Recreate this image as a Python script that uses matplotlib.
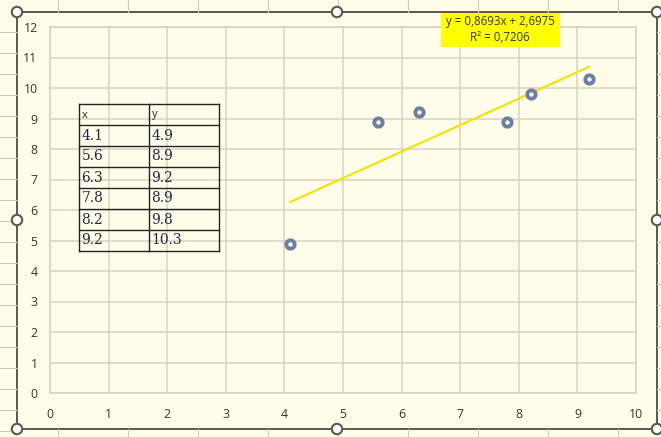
import numpy as np
import matplotlib.pyplot as plt
from matplotlib.patches import Rectangle, Circle

# measurements
x_vals = [4.1, 5.6, 6.3, 7.8, 8.2, 9.2]
y_vals = [4.9, 8.9, 9.2, 8.9, 9.8, 10.3]
x_text = ["4.1", "5.6", "6.3", "7.8", "8.2", "9.2"]
y_text = ["4.9", "8.9", "9.2", "8.9", "9.8", "10.3"]

# linear trendline as reported
slope = 0.8693
intercept = 2.6975
r2 = 0.7206

x_ticks = list(range(0, 11))
y_ticks = list(range(0, 13))

BG = '#FFFDE9'
GRID = '#D8D1C1'
FRAME = '#5E5650'
SHEET = '#CFCABA'

W, H = 661, 437
fig = plt.figure(figsize=(W / 100, H / 100), dpi=100, facecolor=BG)

# spreadsheet behind the chart object, pixel coordinates
bg = fig.add_axes([0, 0, 1, 1], zorder=0)
bg.set_xlim(0, W)
bg.set_ylim(H, 0)
bg.axis('off')
for cx in range(58, W, 70):
    bg.plot([cx, cx], [0, 12], color=SHEET, lw=0.8)
    bg.plot([cx, cx], [429, H], color=SHEET, lw=0.8)
for ry in range(32, H, 21):
    bg.plot([0, 17], [ry, ry], color=SHEET, lw=0.8)
    bg.plot([657, W], [ry, ry], color=SHEET, lw=0.8)

# chart object with its selection frame
bg.add_patch(Rectangle((17, 12), 640, 417, facecolor=BG, edgecolor=FRAME, lw=1.4))
for hx, hy in [(17, 12), (337, 12), (657, 12), (17, 220), (657, 220),
               (17, 429), (337, 429), (657, 429)]:
    bg.add_patch(Circle((hx, hy), 5.2, facecolor='white', edgecolor=FRAME, lw=1.5, zorder=5))

# plot area
ax = fig.add_axes([50 / W, 1 - 393 / H, 586 / W, 366 / H], zorder=1)
ax.set_facecolor('none')
ax.set_xlim(0, 10)
ax.set_ylim(0, 12)
ax.set_xticks(x_ticks)
ax.set_yticks(y_ticks)
ax.grid(True, color=GRID, lw=1.1)
ax.set_axisbelow(True)
for s in ax.spines.values():
    s.set_color(GRID)
    s.set_linewidth(1.1)
ax.tick_params(length=0, labelsize=8.8, labelcolor='#333333')
ax.tick_params(axis='x', pad=11)
ax.tick_params(axis='y', pad=9)
for lab in ax.get_xticklabels() + ax.get_yticklabels():
    lab.set_family('Open Sans')

tx = np.array([min(x_vals), max(x_vals)])
ax.plot(tx, slope * tx + intercept, color='#F2E20C', lw=1.6, zorder=3)
ax.plot(x_vals, y_vals, ls='none', marker='o', ms=6, mfc='white',
        mec='#6E7FA2', mew=2.8, zorder=4, clip_on=False)

# overlays: data table and trendline label
top = fig.add_axes([0, 0, 1, 1], zorder=2)
top.set_xlim(0, W)
top.set_ylim(H, 0)
top.axis('off')
top.patch.set_alpha(0)

tl, tm, tr = 78.5, 148.5, 218.5
rows = [104] + [125 + 21 * i for i in range(7)]
for ry in rows:
    top.plot([tl, tr], [ry, ry], color='#222222', lw=1.0)
for cx in (tl, tm, tr):
    top.plot([cx, cx], [rows[0], rows[-1]], color='#222222', lw=1.0)
top.text(tl + 3, 115, 'x', fontsize=8, family='Open Sans', color='#1F2A44', va='center')
top.text(tm + 3, 115, 'y', fontsize=8, family='Open Sans', color='#1F2A44', va='center')
for i, (a, b) in enumerate(zip(x_text, y_text)):
    yc = rows[i + 1] + 10.5
    top.text(tl + 3, yc, a, fontsize=10, family='DejaVu Serif', color='#1F2A44', va='center')
    top.text(tm + 3, yc, b, fontsize=10, family='DejaVu Serif', color='#1F2A44', va='center')

top.add_patch(Rectangle((441, 13), 119, 34, facecolor='#FFFF00', edgecolor='none'))
eq = f"y = {slope:.4f}x + {intercept:.4f}".replace('.', ',')
rr = f"R² = {r2:.4f}".replace('.', ',')
top.text(500, 21.5, eq, fontsize=8.3, family='Open Sans', color='#333333', ha='center', va='center')
top.text(500, 37.5, rr, fontsize=8.3, family='Open Sans', color='#333333', ha='center', va='center')

fig.savefig('out.png', dpi=100, facecolor=BG)
